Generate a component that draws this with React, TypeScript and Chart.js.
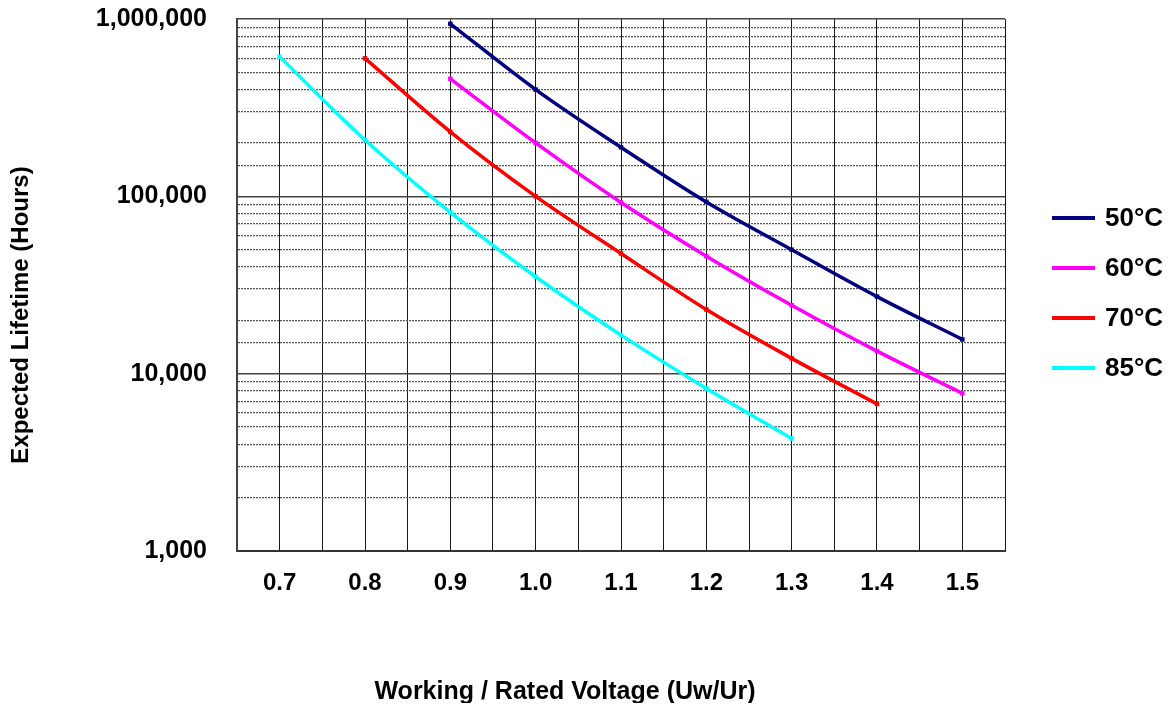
import React, { useEffect, useRef } from "react";
import { Chart, registerables } from "chart.js";

Chart.register(...registerables);

// ---- data ----
const voltageRatios = [0.7, 0.8, 0.9, 1.0, 1.1, 1.2, 1.3, 1.4, 1.5];
const life50 = [null, null, 940000, 400000, 189000, 93000, 50000, 27200, 15600];
const life60 = [null, null, 460000, 200000, 92300, 46000, 24300, 13400, 7750];
const life70 = [null, 600000, 231000, 100000, 47600, 23000, 12200, 6750, null];
const life85 = [612000, 208000, 81300, 35200, 16500, 8260, 4310, null, null];
const seriesLabels = ["50°C", "60°C", "70°C", "85°C"];
const seriesColors = ["#000080", "#FF00FF", "#FF0000", "#00FFFF"];
const xGridValues = [0.65, 0.7, 0.75, 0.8, 0.85, 0.9, 0.95, 1.0, 1.05, 1.1, 1.15, 1.2, 1.25, 1.3, 1.35, 1.4, 1.45, 1.5, 1.55];
const xTickLabels = ["0.7", "0.8", "0.9", "1.0", "1.1", "1.2", "1.3", "1.4", "1.5"];
const yMin = 1000;
const yMax = 1000000;
const xTitle = "Working / Rated Voltage (Uw/Ur)";
const yTitle = "Expected Lifetime (Hours)";

const FONT = "'Liberation Sans', Arial, Helvetica, sans-serif";

function toPoints(vals: (number | null)[]) {
  return voltageRatios
    .map((x, i) => ({ x, y: vals[i] }))
    .filter((p) => p.y !== null) as { x: number; y: number }[];
}

function isDecade(v: number) {
  const l = Math.log10(v);
  return Math.abs(l - Math.round(l)) < 1e-9;
}

const annotationPlugin = {
  id: "customText",
  afterDraw(chart: any) {
    const ctx = chart.ctx as CanvasRenderingContext2D;
    const area = chart.chartArea;
    ctx.save();
    ctx.fillStyle = "#000";
    ctx.font = `bold 25px ${FONT}`;
    // x title
    ctx.textAlign = "center";
    ctx.textBaseline = "middle";
    ctx.fillText(xTitle, 557, 684);
    // y title
    ctx.save();
    ctx.font = `bold 24px ${FONT}`;
    ctx.translate(13, 307);
    ctx.rotate(-Math.PI / 2);
    ctx.fillText(yTitle, 0, 0);
    ctx.restore();
    // legend
    const lx = area.right + 47;
    const ly = area.top + 199;
    ctx.font = `bold 26px ${FONT}`;
    chart.data.datasets.forEach((ds: any, i: number) => {
      const y = ly + i * 50;
      ctx.fillStyle = ds.borderColor;
      ctx.fillRect(lx, y - 2, 43, 4);
      ctx.fillStyle = "#000";
      ctx.textAlign = "left";
      ctx.textBaseline = "middle";
      ctx.fillText(ds.label, lx + 53, y + 1);
    });
    ctx.restore();
  },
};

export default function App() {
  const canvasRef = useRef<HTMLCanvasElement | null>(null);

  useEffect(() => {
    if (!canvasRef.current) return;
    const allSeries = [life50, life60, life70, life85];
    const chart = new Chart(canvasRef.current, {
      type: "line",
      data: {
        datasets: allSeries.map((s, i) => ({
          label: seriesLabels[i],
          data: toPoints(s),
          borderColor: seriesColors[i],
          backgroundColor: seriesColors[i],
          borderWidth: 3.5,
          pointStyle: "rect",
          pointRadius: 3.2,
          pointBorderWidth: 0,
          pointBackgroundColor: seriesColors[i],
          cubicInterpolationMode: "monotone",
          fill: false,
        })),
      },
      options: {
        animation: false,
        responsive: true,
        maintainAspectRatio: false,
        layout: { padding: { top: 11, right: 157, left: 0, bottom: 0 }, autoPadding: false },
        plugins: {
          legend: { display: false },
          tooltip: { enabled: false },
        },
        scales: {
          x: {
            type: "linear",
            min: 0.65,
            max: 1.55,
            afterBuildTicks: (scale: any) => {
              scale.ticks = xGridValues.map((v) => ({ value: v }));
            },
            afterFit: (scale: any) => {
              scale.height = 152;
            },
            ticks: {
              autoSkip: false,
              maxRotation: 0,
              padding: 18,
              color: "#000",
              font: { family: FONT, size: 24, weight: "bold" },
              callback: (value: any) => {
                const lbl = xTickLabels.find((t) => Math.abs(Number(t) - Number(value)) < 1e-6);
                return lbl ?? "";
              },
            },
            grid: { color: "#1a1a1a", lineWidth: 1, drawTicks: false },
            border: { color: "#333", width: 2 },
          },
          y: {
            type: "logarithmic",
            min: yMin,
            max: yMax,
            afterFit: (scale: any) => {
              scale.width = 229;
            },
            ticks: {
              autoSkip: false,
              padding: 0,
              color: "#000",
              font: { family: FONT, size: 25, weight: "bold", lineHeight: 0.85 },
              callback: (value: any) => {
                const v = Number(value);
                return isDecade(v) ? v.toLocaleString("en-US") : "";
              },
            },
            grid: {
              drawTicks: true,
              tickLength: 30,
              tickColor: "rgba(0,0,0,0)",
              lineWidth: (ctx: any) => (ctx.tick && isDecade(ctx.tick.value) ? 1.5 : 1.2),
              color: (ctx: any) => (ctx.tick && isDecade(ctx.tick.value) ? "#444" : "#555"),
            },
            border: {
              color: "#444",
              width: 2,
              dash: (ctx: any) => (ctx.tick && !isDecade(ctx.tick.value) ? [2, 1] : []),
            },
          },
        },
      },
      plugins: [annotationPlugin],
    } as any);
    return () => chart.destroy();
  }, []);

  return (
    <div style={{ position: "relative", width: 1154, height: 695 }}>
      <canvas ref={canvasRef} />
    </div>
  );
}
